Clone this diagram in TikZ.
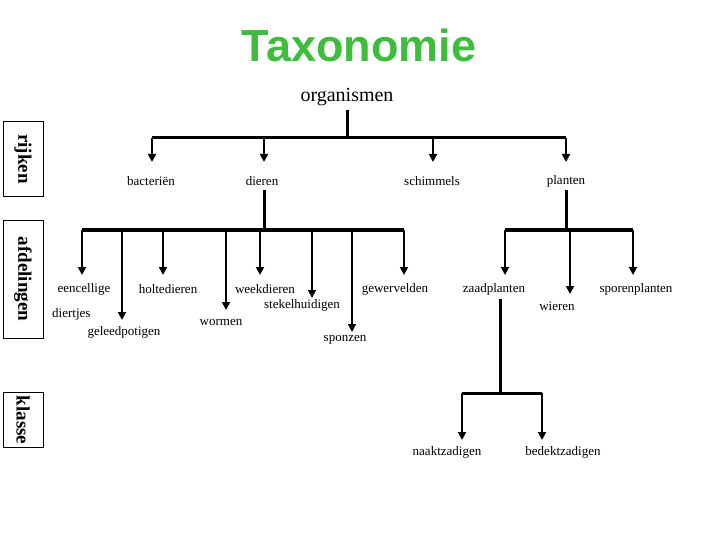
\documentclass[tikz,border=0pt]{standalone}
\usepackage{fontspec}
\setmainfont{Liberation Serif}
\newfontfamily\titlefont{Liberation Sans}
\usetikzlibrary{arrows.meta}
\definecolor{tgreen}{RGB}{60,190,60}
\begin{document}
\begin{tikzpicture}[x=1pt,y=-1pt,
  lbl/.style={font=\fontsize{13}{14}\selectfont, inner sep=0pt},
  side/.style={draw, thick, rotate=-90, font=\fontsize{19}{20}\selectfont\bfseries, minimum height=40pt, inner sep=3pt},
  trunk/.style={line width=3pt},
  br/.style={line width=1.8pt,-{Triangle[width=8pt,length=8pt]}}]
\useasboundingbox (0,0) rectangle (720,540);
\node[font=\titlefont\fontsize{45}{48}\selectfont\bfseries, text=tgreen] (title) at (359,45) {Taxonomie};
\node[font=\fontsize{20}{22}\selectfont] (org) at (347,97) {organismen};
\node[side, minimum width=75pt] (rk) at (23,159) {rijken};
\node[side, minimum width=118pt] (af) at (23,279) {afdelingen};
\node[side, minimum width=40pt] (kl) at (23,420) {klasse};
% level 1
\node[lbl] (bac) at (151,181) {bacteriën};
\node[lbl] (die) at (262,181) {dieren};
\node[lbl] (sch) at (432,181) {schimmels};
\node[lbl] (pla) at (566,181) {planten};
\coordinate (j0) at (347,138);
\draw[trunk] (347,110) -- (j0);
\draw[trunk] (152,138) -- (566,138);
\foreach \x/\n in {152/bac,264/die,433/sch,566/pla}
  \draw[br] (\x,138) -- (\x,162);
% level 2 dieren
\node[lbl] (een) at (84,289) {eencellige};
\node[lbl, anchor=west] (dtj) at (52,314) {diertjes};
\node[lbl] (gel) at (124,332) {geleedpotigen};
\node[lbl] (hol) at (168,289) {holtedieren};
\node[lbl] (wor) at (221,322) {wormen};
\node[lbl] (wee) at (265,289) {weekdieren};
\node[lbl] (ste) at (302,305) {stekelhuidigen};
\node[lbl] (spo) at (345,340) {sponzen};
\node[lbl] (gew) at (395,289) {gewervelden};
\draw[trunk] (264,190) -- (264,230);
\draw[trunk] (82,230) -- (404,230);
\foreach \x/\t in {82/275,122/320,163/275,226/310,260/275,312/298,352/332,404/275}
  \draw[br] (\x,230) -- (\x,\t);
% level 2 planten
\node[lbl] (zaa) at (494,289) {zaadplanten};
\node[lbl] (wie) at (557,306) {wieren};
\node[lbl] (spp) at (636,289) {sporenplanten};
\draw[trunk] (566,190) -- (566,230);
\draw[trunk] (505,230) -- (633,230);
\foreach \x/\t in {505/275,570/294,633/275}
  \draw[br] (\x,230) -- (\x,\t);
% level 3
\node[lbl] (naa) at (447,452) {naaktzadigen};
\node[lbl] (bed) at (563,452) {bedektzadigen};
\draw[trunk] (500,299) -- (500,393);
\draw[trunk] (462,393) -- (542,393);
\draw[br] (462,393) -- (462,440);
\draw[br] (542,393) -- (542,440);
\end{tikzpicture}
\end{document}
